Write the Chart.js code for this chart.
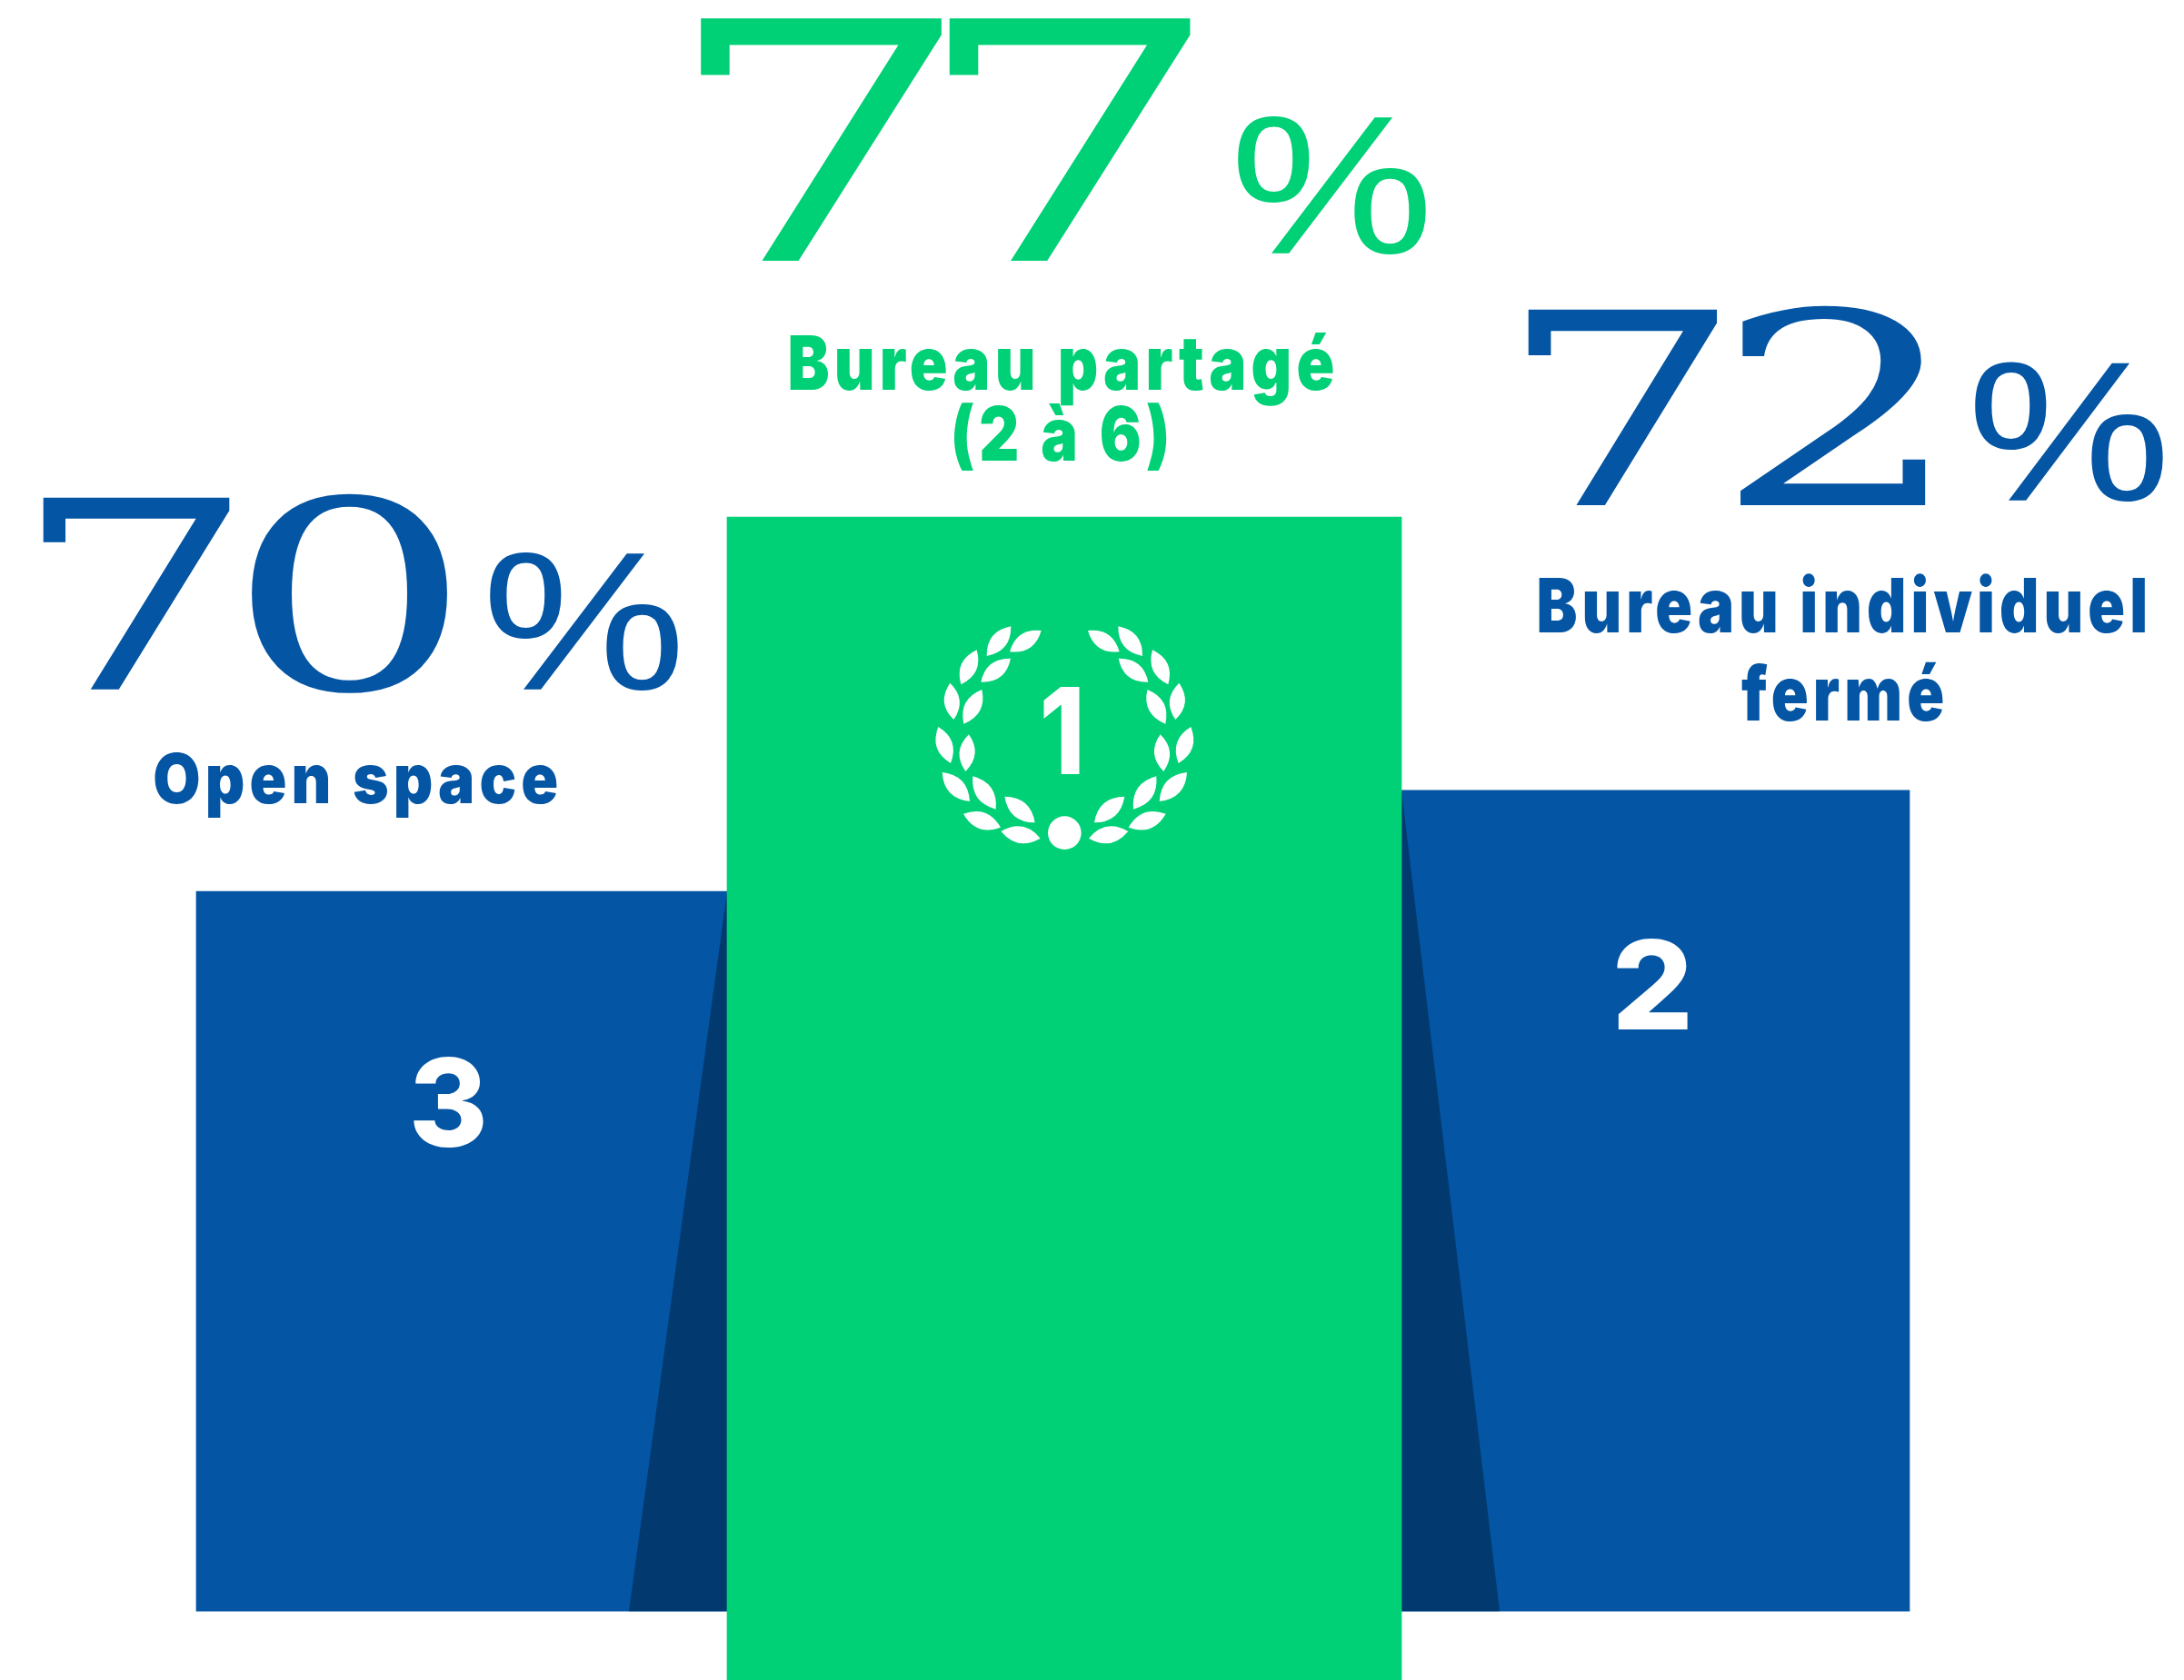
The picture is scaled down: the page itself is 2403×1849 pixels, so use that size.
<!DOCTYPE html>
<html lang="fr">
<head>
<meta charset="utf-8">
<title>Podium des bureaux</title>
<script src="https://cdn.jsdelivr.net/npm/chart.js@4"></script>
<style>html,body{margin:0;padding:0;background:#fff}canvas{display:block}</style>
</head>
<body>
<canvas id="c" width="2403" height="1849"></canvas>
<script>
const categories = ['Open space', 'Bureau partagé (2 à 6)', 'Bureau individuel fermé'];
const percentLabels = ['70', '77', '72'];
const ranks = ['3', '1', '2'];
const podiumTops = [70, 77, 71.89];
const podiumBases = [56.54, 55.25, 56.54];

const GREEN = '#00D076', BLUE = '#0455A4', DARK = '#023A70';
const colors = [BLUE, GREEN, BLUE];
const thickness = [609, 742, 559];

function fit(ctx, text, font, x0, y0, x1, y1, color, spacing) {
  ctx.save();
  ctx.font = font;
  ctx.letterSpacing = spacing || '0px';
  ctx.textAlign = 'left';
  ctx.textBaseline = 'alphabetic';
  ctx.fillStyle = color;
  const m = ctx.measureText(text);
  const sx = (x1 - x0) / (m.actualBoundingBoxLeft + m.actualBoundingBoxRight);
  const sy = (y1 - y0) / (m.actualBoundingBoxAscent + m.actualBoundingBoxDescent);
  ctx.translate(x0 + m.actualBoundingBoxLeft * sx, y0 + m.actualBoundingBoxAscent * sy);
  ctx.scale(sx, sy);
  ctx.fillText(text, 0, 0);
  ctx.restore();
}

const leaves = [
  [337,58,257,156],[437,72,333,142],[224,136,172,250],[336,164,238,242],
  [136,245,148,366],[241,267,181,380],[97,390,138,510],[198,415,187,537],
  [110,540,201,636],[211,553,287,662],[316,620,416,706],[180,677,303,722],[304,735,434,758]
];

const shadowPlugin = {
  id: 'shadow',
  beforeDatasetDraw(chart, args) {
    if (args.index !== 1) return;
    const { ctx, scales: { y } } = chart;
    const g = chart.getDatasetMeta(1).data[1];
    const l = g.x - g.width / 2, r = g.x + g.width / 2, spread = 108;
    ctx.save();
    ctx.fillStyle = DARK;
    ctx.beginPath();
    ctx.moveTo(l, y.getPixelForValue(podiumTops[0]));
    ctx.lineTo(l - spread, y.getPixelForValue(podiumBases[0]));
    ctx.lineTo(l, y.getPixelForValue(podiumBases[0]));
    ctx.closePath();
    ctx.moveTo(r, y.getPixelForValue(podiumTops[2]));
    ctx.lineTo(r + spread, y.getPixelForValue(podiumBases[2]));
    ctx.lineTo(r, y.getPixelForValue(podiumBases[2]));
    ctx.closePath();
    ctx.fill();
    ctx.restore();
  }
};

const textPlugin = {
  id: 'texts',
  afterDatasetsDraw(chart) {
    const ctx = chart.ctx;
    const digitFont = '400 200px "DejaVu Serif"';
    const pctFont = '400 200px "Liberation Sans"';
    const labelFont = '900 80px "Inter"';
    const rankFont = '800 100px "Inter"';

    fit(ctx, percentLabels[0], digitFont, 46, 543, 492, 763, BLUE, '-16px');
    fit(ctx, '%', pctFont, 539, 607, 746, 760, BLUE);
    fit(ctx, percentLabels[1], digitFont, 769, 18, 1310, 287, GREEN, '-28px');
    fit(ctx, '%', pctFont, 1362, 127, 1569, 280, GREEN);
    fit(ctx, percentLabels[2], digitFont, 1680, 336, 2119, 556, BLUE, '-16px');
    fit(ctx, '%', pctFont, 2173, 398, 2380, 552, BLUE);

    fit(ctx, 'Open space', labelFont, 170, 828, 613, 900, BLUE, '6px');
    fit(ctx, 'Bureau partagé', labelFont, 869, 365, 1467, 446, GREEN, '6px');
    fit(ctx, '(2 à 6)', labelFont, 1050, 443, 1284, 518, GREEN, '6px');
    fit(ctx, 'Bureau individuel', labelFont, 1693, 631, 2360, 697, BLUE, '6px');
    fit(ctx, 'fermé', labelFont, 1916, 729, 2138, 794, BLUE, '6px');

    fit(ctx, ranks[0], rankFont, 455, 1162, 532, 1263, '#fff');
    fit(ctx, ranks[1], rankFont, 1148, 756, 1188, 852, '#fff');
    fit(ctx, ranks[2], rankFont, 1779, 1033, 1858, 1133, '#fff');

    ctx.save();
    ctx.fillStyle = '#fff';
    ctx.translate(1000, 670);
    ctx.scale(1 / 3, 1 / 3);
    const leaf = (x1, y1, x2, y2) => {
      const mx = (x1 + x2) / 2, my = (y1 + y2) / 2;
      const dx = x2 - x1, dy = y2 - y1, L = Math.hypot(dx, dy);
      const w = L * 0.42, nx = -dy / L * w, ny = dx / L * w;
      ctx.beginPath();
      ctx.moveTo(x1, y1);
      ctx.quadraticCurveTo(mx + nx, my + ny, x2, y2);
      ctx.quadraticCurveTo(mx - nx, my - ny, x1, y1);
      ctx.fill();
    };
    for (const [a, b, c, d] of leaves) {
      leaf(a, b, c, d);
      leaf(1028 - a, b, 1028 - c, d);
    }
    ctx.beginPath();
    ctx.arc(514, 740, 55, 0, Math.PI * 2);
    ctx.fill();
    ctx.restore();
  }
};

new Chart(document.getElementById('c'), {
  type: 'bar',
  data: {
    labels: categories,
    datasets: categories.map((name, i) => ({
      label: name,
      data: categories.map((_, j) => (j === i ? [podiumBases[i], podiumTops[i]] : null)),
      backgroundColor: colors[i],
      borderWidth: 0,
      barThickness: thickness[i],
      grouped: false,
      order: i === 1 ? 0 : 1
    }))
  },
  options: {
    responsive: false,
    animation: false,
    layout: { padding: { left: 195.25, right: 256.25, top: 0, bottom: 0 } },
    plugins: { legend: { display: false }, tooltip: { enabled: false }, title: { display: false } },
    scales: {
      x: { display: false },
      y: { display: false, min: 55.252, max: 86.668 }
    }
  },
  plugins: [shadowPlugin, textPlugin]
});
</script>
</body>
</html>
